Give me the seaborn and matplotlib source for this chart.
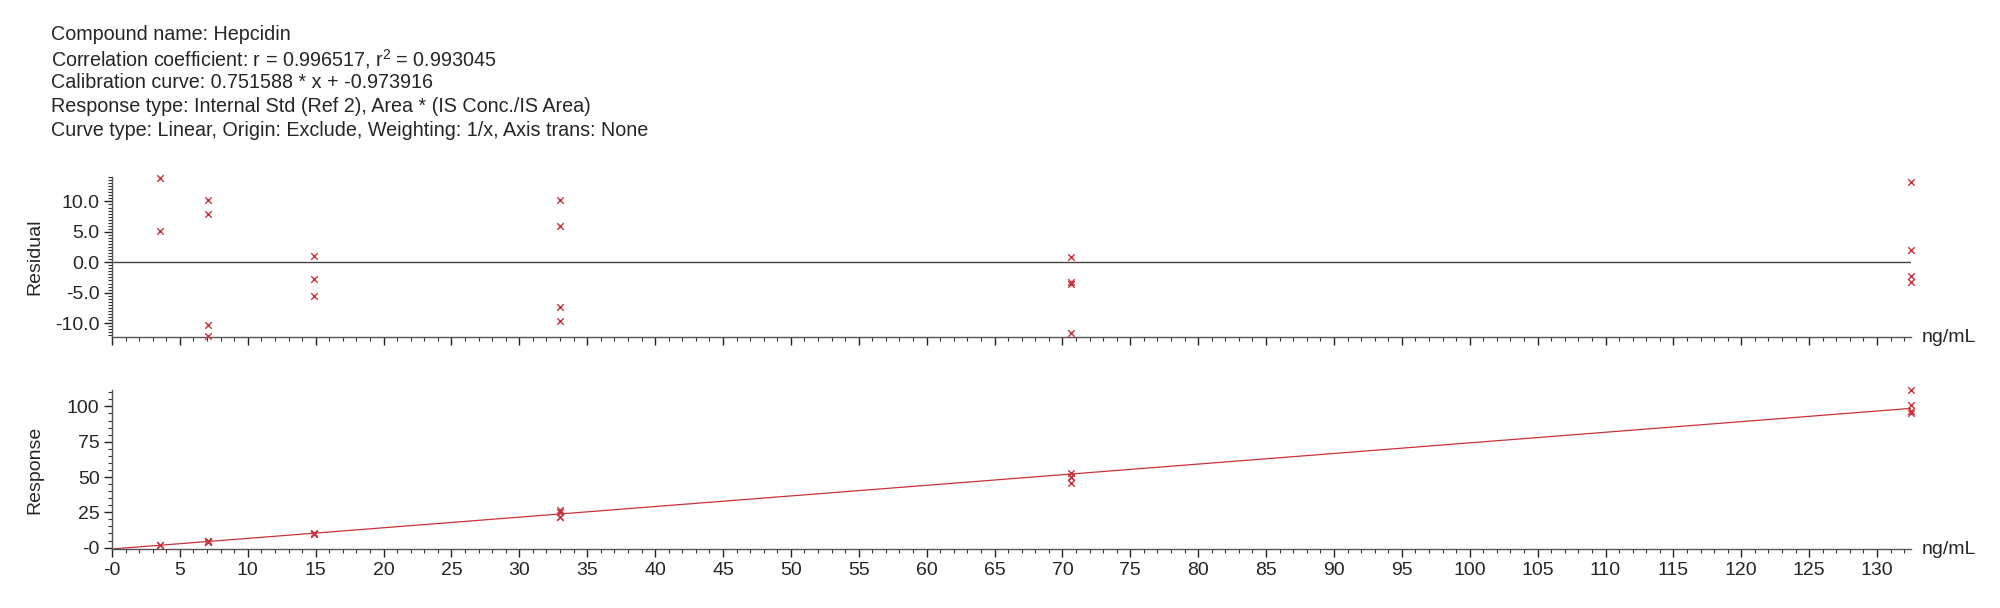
import matplotlib
matplotlib.use('Agg')
import matplotlib.pyplot as plt
from matplotlib.ticker import MultipleLocator, FixedLocator, FixedFormatter
import seaborn as sns
import pandas as pd

# header text of the report
header_lines = [
    'Compound name: Hepcidin',
    'Correlation coefficient: r = 0.996517, r$^{2}$ = 0.993045',
    'Calibration curve: 0.751588 * x + -0.973916',
    'Response type: Internal Std (Ref 2), Area * (IS Conc./IS Area)',
    'Curve type: Linear, Origin: Exclude, Weighting: 1/x, Axis trans: None',
]

# calibration points (ng/mL), residuals (%) and responses
conc = [3.52, 3.52,
        7.07, 7.07, 7.07, 7.07,
        14.9, 14.9, 14.9,
        33.0, 33.0, 33.0, 33.0,
        70.6, 70.6, 70.6, 70.6,
        132.5, 132.5, 132.5, 132.5]
residual = [13.9, 5.1,
            10.2, 7.9, -10.4, -12.1,
            1.0, -2.7, -5.5,
            10.2, 6.0, -7.4, -9.7,
            0.9, -3.3, -3.6, -11.6,
            13.2, 2.0, -2.2, -3.3]
response = [2.04, 1.81,
            4.88, 4.76, 3.79, 3.70,
            10.34, 9.92, 9.61,
            26.36, 25.32, 21.99, 21.42,
            52.57, 50.34, 50.18, 45.93,
            111.9, 100.75, 96.57, 95.47]

# fitted line end points
fit_x = [0.0, 132.5]
fit_y = [-0.974, 98.61]

x_ticks = list(range(0, 131, 5))
x_labels = ['-0'] + [str(v) for v in x_ticks[1:]]
res_ticks = [-10, -5, 0, 5, 10]
resp_ticks = [0, 25, 50, 75, 100]
resp_labels = ['-0', '25', '50', '75', '100']

df = pd.DataFrame({'conc': conc, 'residual': residual, 'response': response})
fit_df = pd.DataFrame({'conc': fit_x, 'response': fit_y})

sns.set_style('ticks')
plt.rcParams['font.family'] = ['Liberation Sans', 'DejaVu Sans']
plt.rcParams['mathtext.fontset'] = 'custom'
plt.rcParams['mathtext.rm'] = 'Liberation Sans'
plt.rcParams['mathtext.default'] = 'regular'

red = '#c8323c'
spine_col = '#555555'

fig = plt.figure(figsize=(20, 6.08), dpi=100)

for i, line in enumerate(header_lines):
    fig.text(0.0255, 1 - (35 + i * 23.8) / 608, line, fontsize=14.2, va='center', ha='left')

ax_res = fig.add_axes([0.056, 0.4457, 0.8995, 0.263])
ax_resp = fig.add_axes([0.056, 0.097, 0.8995, 0.2615])

# residual plot
ax_res.axhline(0, color='#444444', lw=1.0, zorder=1)
sns.scatterplot(data=df, x='conc', y='residual', ax=ax_res, marker='x', s=22,
                color=red, linewidth=1.0, clip_on=False, zorder=3)
ax_res.set_ylim(-12.3, 14.0)
ax_res.yaxis.set_major_locator(FixedLocator(res_ticks))
ax_res.yaxis.set_major_formatter(FixedFormatter(['%.1f' % v for v in res_ticks]))
ax_res.yaxis.set_minor_locator(MultipleLocator(0.5))
ax_res.set_ylabel('Residual', fontsize=14)
ax_res.set_xticklabels([])

# response plot
sns.lineplot(data=fit_df, x='conc', y='response', ax=ax_resp, color=red, lw=0.9, zorder=2)
sns.scatterplot(data=df, x='conc', y='response', ax=ax_resp, marker='x', s=22,
                color=red, linewidth=1.0, clip_on=False, zorder=3)
ax_resp.set_ylim(-1.0, 111.6)
ax_resp.yaxis.set_major_locator(FixedLocator(resp_ticks))
ax_resp.yaxis.set_major_formatter(FixedFormatter(resp_labels))
ax_resp.yaxis.set_minor_locator(MultipleLocator(5))
ax_resp.set_ylabel('Response', fontsize=14)

for ax in (ax_res, ax_resp):
    ax.set_xlim(0, 132.5)
    ax.xaxis.set_major_locator(FixedLocator(x_ticks))
    ax.xaxis.set_minor_locator(MultipleLocator(1))
    ax.set_xlabel('')
    ax.yaxis.set_label_coords(-0.038, 0.5)
    sns.despine(ax=ax)
    for s in ('left', 'bottom'):
        ax.spines[s].set_color(spine_col)
        ax.spines[s].set_linewidth(1.0)
    ax.tick_params(which='major', length=6, width=1.0, color='#222222', labelsize=14, pad=3)
    ax.tick_params(which='minor', length=3, width=0.8, color='#333333')
    ax.text(1.006, 0, 'ng/mL', transform=ax.transAxes, fontsize=14, va='center', ha='left')

ax_resp.set_xticklabels(x_labels)

fig.savefig('out.png', dpi=100)
